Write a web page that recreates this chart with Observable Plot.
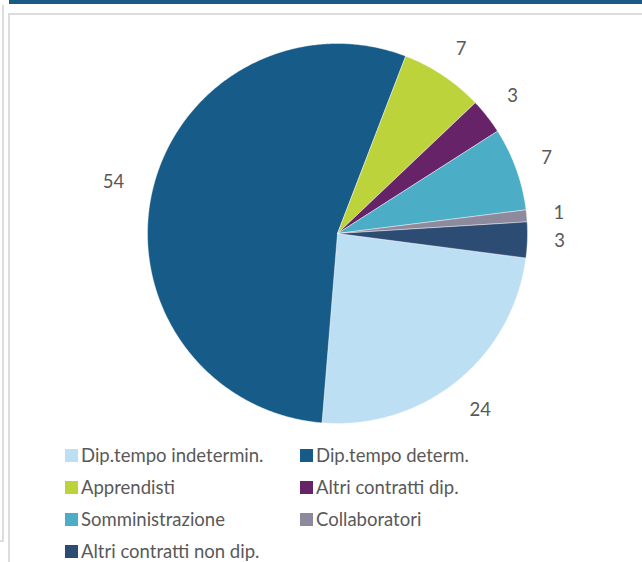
<!DOCTYPE html>
<html>
<head>
<meta charset="utf-8">
<script src="https://cdn.jsdelivr.net/npm/d3@7"></script>
<script src="https://cdn.jsdelivr.net/npm/@observablehq/plot@0.6"></script>
<style>
  html, body { margin: 0; padding: 0; background: #fff; }
  body { width: 642px; height: 562px; position: relative; overflow: hidden; font-family: Lato, "Open Sans", sans-serif; }
  .topbar { position: absolute; left: 9px; top: 0; width: 633px; height: 4px; background: #1a5b85; }
  .outer { position: absolute; left: 0; top: 5px; width: 2px; height: 535px; border-right: 2px solid #dcdcdc; border-bottom: 2px solid #dcdcdc; }
  .frame { position: absolute; left: 8px; top: 13px; width: 640px; height: 560px; border-left: 2px solid #dcdcdc; border-top: 2px solid #dcdcdc; }
  #chart { position: absolute; left: 0; top: 0; }
  #legend { position: absolute; left: 65px; top: 439px; display: grid; grid-template-columns: 235px auto; grid-auto-rows: 32px; font-size: 18.5px; color: #595959; }
  .item { display: flex; align-items: center; white-space: nowrap; }
  .sw { width: 13px; height: 13px; margin-right: 3px; flex: none; }
</style>
</head>
<body>
<div class="topbar"></div>
<div class="outer"></div>
<div class="frame"></div>
<div id="chart"></div>
<div id="legend"></div>
<script>
const categories = ["Dip.tempo indetermin.", "Dip.tempo determ.", "Apprendisti", "Altri contratti dip.", "Somministrazione", "Collaboratori", "Altri contratti non dip."];
const values = [24, 54, 7, 3, 7, 1, 3];
const colors = ["#bddff3", "#175b88", "#bcd33b", "#672367", "#4badc6", "#8c8a9c", "#2c4c74"];
const firstSliceAngle = 97.4; // degrees clockwise from 12 o'clock

const total = d3.sum(values);
const pie = d3.pie().sort(null).value(d => d.value)
  .startAngle(firstSliceAngle * Math.PI / 180)
  .endAngle(firstSliceAngle * Math.PI / 180 + 2 * Math.PI);
const arcs = pie(categories.map((name, i) => ({name, value: values[i]})));

// Outline points of each slice (geometry from the pie layout)
const pts = [];
for (const a of arcs) {
  const n = Math.max(2, Math.ceil((a.endAngle - a.startAngle) / (Math.PI / 360)));
  pts.push({name: a.data.name, x: 0, y: 0});
  for (let k = 0; k <= n; k++) {
    const t = a.startAngle + (a.endAngle - a.startAngle) * k / n;
    pts.push({name: a.data.name, x: Math.sin(t), y: Math.cos(t)});
  }
  pts.push({name: a.data.name, x: 0, y: 0});
}
const labelR = 1.17;
const labels = arcs.map(a => {
  const m = (a.startAngle + a.endAngle) / 2;
  const extra = String(a.data.value).length > 1 ? 0.04 * Math.abs(Math.sin(m)) : 0;
  return {text: String(a.data.value), x: (labelR + extra) * Math.sin(m), y: (labelR + extra) * Math.cos(m)};
});

const chart = Plot.plot({
  width: 642,
  height: 438,
  marginLeft: 147,
  marginRight: 115,
  marginTop: 43,
  marginBottom: 15,
  x: {domain: [-1, 1], axis: null},
  y: {domain: [-1, 1], axis: null},
  color: {domain: categories, range: colors},
  style: {background: "transparent", overflow: "visible"},
  marks: [
    Plot.line(pts, {x: "x", y: "y", z: "name", fill: "name", stroke: "#ffffff", strokeWidth: 0.6, strokeOpacity: 0.7, curve: "linear"}),
    Plot.text(labels, {x: "x", y: "y", text: "text", fill: "#595959", fontSize: 18.5, fontFamily: "Lato, 'Open Sans', sans-serif"})
  ]
});
document.getElementById("chart").appendChild(chart);

const legend = document.getElementById("legend");
categories.forEach((c, i) => {
  const it = document.createElement("div");
  it.className = "item";
  const sw = document.createElement("span");
  sw.className = "sw";
  sw.style.background = colors[i];
  const tx = document.createElement("span");
  tx.textContent = c;
  it.appendChild(sw);
  it.appendChild(tx);
  legend.appendChild(it);
});
</script>
</body>
</html>
